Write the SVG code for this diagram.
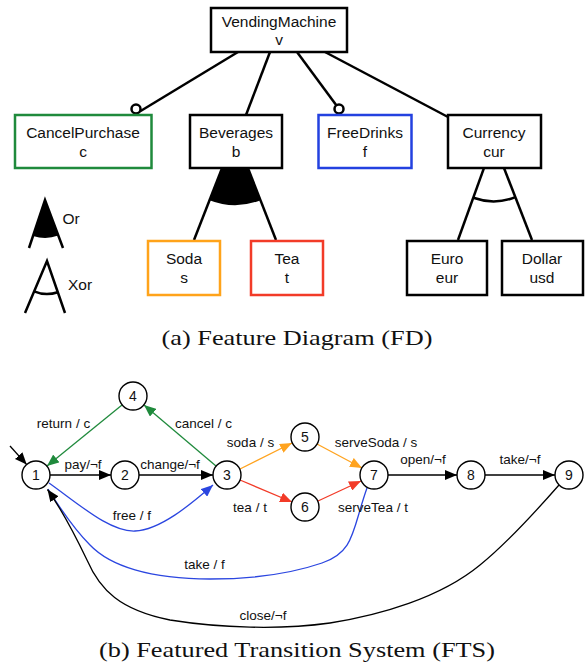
<svg xmlns="http://www.w3.org/2000/svg" width="585" height="664" viewBox="0 0 585 664">
<style>
.box{fill:#fff;stroke:#000;stroke-width:2.5}
.fdl{stroke:#000;stroke-width:2.5;fill:none}
.ft{font-family:"Liberation Sans",Arial,sans-serif;font-size:15.5px;text-anchor:middle;dominant-baseline:central;fill:#111}
.st{fill:#fff;stroke:#000;stroke-width:1.4}
.sn{font-family:"Liberation Sans",Arial,sans-serif;font-size:14px;text-anchor:middle;dominant-baseline:central;fill:#111}
.el{font-family:"Liberation Sans",Arial,sans-serif;font-size:13.5px;text-anchor:middle;dominant-baseline:central;fill:#111}
.cap{font-family:"Liberation Serif","Times New Roman",serif;font-size:22px;text-anchor:middle;fill:#111}
.e{fill:none;stroke-width:1.3}
.k{stroke:#000}.g{stroke:#1f8a3c}.o{stroke:#ffa31f}.r{stroke:#f23b28}.b{stroke:#2b46e0}
</style>
<defs>
<marker id="ak" markerUnits="userSpaceOnUse" markerWidth="12" markerHeight="10" refX="12" refY="5" orient="auto"><path d="M0,0 L12,5 L0,10 z" fill="#000"/></marker>
<marker id="ag" markerUnits="userSpaceOnUse" markerWidth="12" markerHeight="10" refX="12" refY="5" orient="auto"><path d="M0,0 L12,5 L0,10 z" fill="#1f8a3c"/></marker>
<marker id="ao" markerUnits="userSpaceOnUse" markerWidth="12" markerHeight="10" refX="12" refY="5" orient="auto"><path d="M0,0 L12,5 L0,10 z" fill="#ffa31f"/></marker>
<marker id="ar" markerUnits="userSpaceOnUse" markerWidth="12" markerHeight="10" refX="12" refY="5" orient="auto"><path d="M0,0 L12,5 L0,10 z" fill="#f23b28"/></marker>
<marker id="ab" markerUnits="userSpaceOnUse" markerWidth="12" markerHeight="10" refX="12" refY="5" orient="auto"><path d="M0,0 L12,5 L0,10 z" fill="#2b46e0"/></marker>
</defs>

<!-- Feature diagram connectors -->
<g id="fd-connectors">
<line class="fdl" x1="238" y1="52" x2="139.8" y2="111.5"/>
<circle cx="136" cy="109" r="4.5" fill="#fff" stroke="#000" stroke-width="2.5"/>
<line class="fdl" x1="270" y1="52" x2="246" y2="115"/>
<line class="fdl" x1="297" y1="52" x2="336.5" y2="105.5"/>
<circle cx="339" cy="109" r="4.5" fill="#fff" stroke="#000" stroke-width="2.5"/>
<line class="fdl" x1="325" y1="52" x2="448" y2="117"/>
<path d="M235,135 L209.5,200.2 A70,70 0 0 0 260.5,200.2 Z" fill="#000"/>
<line class="fdl" x1="235" y1="135" x2="194" y2="240"/>
<line class="fdl" x1="235" y1="135" x2="276" y2="240"/>
<line class="fdl" x1="493.6" y1="141.3" x2="458" y2="240"/>
<line class="fdl" x1="493.6" y1="141.3" x2="532" y2="240"/>
<path class="fdl" d="M473.3,197.8 A60,60 0 0 0 515.4,197.2"/>
</g>

<g id="VendingMachine"><rect class="box" x="211" y="8" width="136" height="44"/><text class="ft" x="279" y="21">VendingMachine</text><text class="ft" x="279" y="39">v</text></g>
<g id="CancelPurchase"><rect class="box" x="15" y="115" width="136.5" height="53" stroke="#1f8a3c" style="stroke:#1f8a3c"/><text class="ft" x="83" y="132">CancelPurchase</text><text class="ft" x="83" y="151">c</text></g>
<g id="Beverages"><rect class="box" x="190" y="115" width="92" height="53"/><text class="ft" x="236" y="132">Beverages</text><text class="ft" x="236" y="151">b</text></g>
<g id="FreeDrinks"><rect class="box" x="318.5" y="115" width="93" height="53" style="stroke:#2341e0"/><text class="ft" x="365" y="132">FreeDrinks</text><text class="ft" x="365" y="151">f</text></g>
<g id="Currency"><rect class="box" x="448" y="115" width="93" height="53"/><text class="ft" x="494" y="132">Currency</text><text class="ft" x="494" y="151">cur</text></g>
<g id="Soda"><rect class="box" x="148" y="241" width="72" height="54" style="stroke:#ffa31a"/><text class="ft" x="184" y="258">Soda</text><text class="ft" x="184" y="277">s</text></g>
<g id="Tea"><rect class="box" x="251" y="241" width="72" height="54" style="stroke:#f23b28"/><text class="ft" x="287" y="258">Tea</text><text class="ft" x="287" y="277">t</text></g>
<g id="Euro"><rect class="box" x="407" y="241" width="80" height="54"/><text class="ft" x="447" y="258">Euro</text><text class="ft" x="447" y="277">eur</text></g>
<g id="Dollar"><rect class="box" x="502" y="241" width="81" height="54"/><text class="ft" x="542" y="258">Dollar</text><text class="ft" x="542" y="277">usd</text></g>

<g id="legend">
<path d="M45,200 L33,236 A38,38 0 0 0 58.3,235.6 Z" fill="#000"/>
<path class="fdl" d="M29,248 L45,200 L63,248"/>
<text class="ft" x="71" y="218">Or</text>
<path class="fdl" d="M25,313 L47,261 L65,313"/>
<path class="fdl" d="M34.1,291.4 A33,33 0 0 0 57.8,292.2"/>
<text class="ft" x="80" y="284">Xor</text>
</g>

<text class="cap" x="297" y="345" textLength="271" lengthAdjust="spacingAndGlyphs">(a) Feature Diagram (FD)</text>

<!-- FTS connectors -->
<g id="fts-connectors">
<line class="e k" x1="10" y1="446" x2="26.7" y2="464.6" marker-end="url(#ak)"/>
<line class="e k" x1="50" y1="475" x2="111" y2="475" marker-end="url(#ak)"/>
<line class="e k" x1="139" y1="475" x2="213" y2="475" marker-end="url(#ak)"/>
<line class="e g" x1="216" y1="466" x2="144" y2="405" marker-end="url(#ag)"/>
<line class="e g" x1="122" y1="405" x2="47" y2="466" marker-end="url(#ag)"/>
<line class="e o" x1="240" y1="469" x2="292" y2="443" marker-end="url(#ao)"/>
<line class="e r" x1="240" y1="480" x2="292" y2="502" marker-end="url(#ar)"/>
<line class="e o" x1="317" y1="444" x2="362" y2="468" marker-end="url(#ao)"/>
<line class="e r" x1="318" y1="501" x2="361" y2="481" marker-end="url(#ar)"/>
<line class="e k" x1="388" y1="475" x2="457" y2="475" marker-end="url(#ak)"/>
<line class="e k" x1="485" y1="475" x2="555" y2="475" marker-end="url(#ak)"/>
<path class="e b" d="M49,483 C80,505 110,532 135,531 C160,530 190,505 213,485" marker-end="url(#ab)"/>
<path class="e b" d="M367,488 C352,530 355,552 322,563 C290,574 250,579 210,579 C150,579 110,566 90,545 C72,527 58,505 48,489"/>
<path class="e k" d="M559,485 C530,518 505,545 480,565 C440,598 380,615 330,623 C280,630 220,628 170,620 C120,610 100,590 87,560 C75,535 62,510 47.5,489.5" marker-end="url(#ak)"/>
<text class="el" x="63.5" y="423">return / c</text>
<text class="el" x="203.5" y="423">cancel / c</text>
<text class="el" x="250.5" y="442">soda / s</text>
<text class="el" x="83" y="464">pay/¬f</text>
<text class="el" x="170" y="464">change/¬f</text>
<text class="el" x="132" y="515">free / f</text>
<text class="el" x="250" y="507">tea / t</text>
<text class="el" x="376" y="442">serveSoda / s</text>
<text class="el" x="423" y="459">open/¬f</text>
<text class="el" x="520" y="459">take/¬f</text>
<text class="el" x="373" y="507">serveTea / t</text>
<text class="el" x="204.5" y="564">take / f</text>
<text class="el" x="263" y="615">close/¬f</text>
</g>

<g id="s1"><circle class="st" cx="36" cy="475" r="14"/><text class="sn" x="36" y="475">1</text></g>
<g id="s2"><circle class="st" cx="125" cy="475" r="14"/><text class="sn" x="125" y="475">2</text></g>
<g id="s3"><circle class="st" cx="227" cy="475" r="14"/><text class="sn" x="227" y="475">3</text></g>
<g id="s4"><circle class="st" cx="133" cy="396" r="14"/><text class="sn" x="133" y="396">4</text></g>
<g id="s5"><circle class="st" cx="305" cy="437" r="14"/><text class="sn" x="305" y="437">5</text></g>
<g id="s6"><circle class="st" cx="305" cy="507" r="14"/><text class="sn" x="305" y="507">6</text></g>
<g id="s7"><circle class="st" cx="374" cy="475" r="14"/><text class="sn" x="374" y="475">7</text></g>
<g id="s8"><circle class="st" cx="471" cy="475" r="14"/><text class="sn" x="471" y="475">8</text></g>
<g id="s9"><circle class="st" cx="569" cy="475" r="14"/><text class="sn" x="569" y="475">9</text></g>

<text class="cap" x="297" y="657" textLength="396" lengthAdjust="spacingAndGlyphs">(b) Featured Transition System (FTS)</text>
</svg>
